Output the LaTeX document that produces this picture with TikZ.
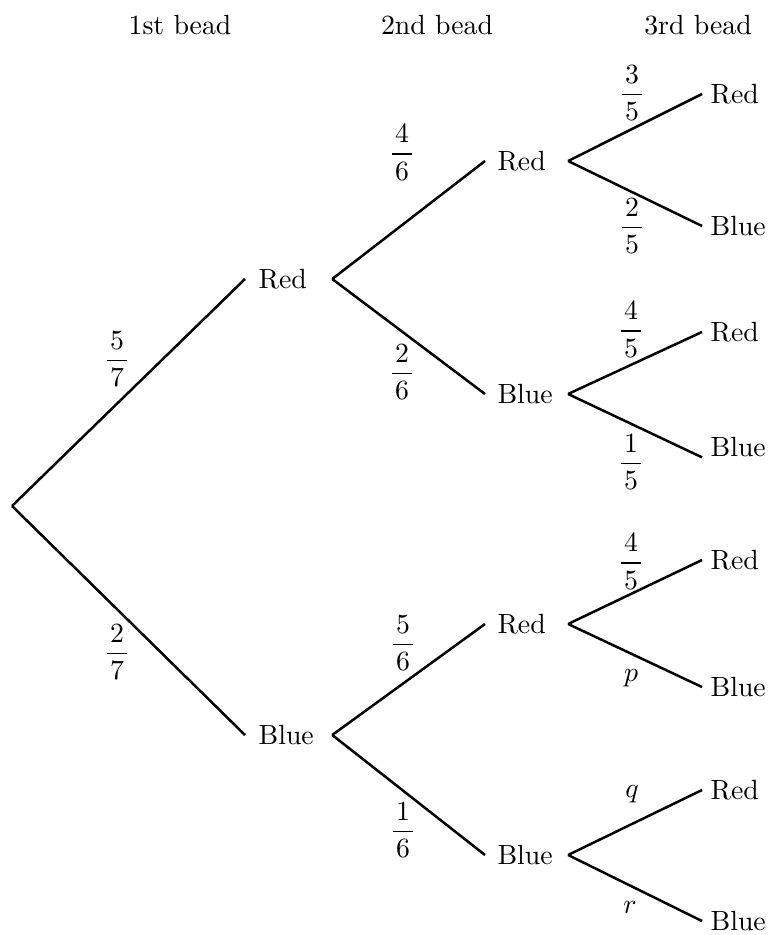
\documentclass[tikz,border=0pt]{standalone}
\usepackage{amsmath}
\usetikzlibrary{positioning}
\tikzstyle{branch}=[line width=0.9pt, black]
\tikzstyle{stage_one}=[anchor=west, inner xsep=4.7pt, inner ysep=0pt, text width=21.6pt, align=left]
\tikzstyle{stage_two}=[anchor=west, inner xsep=4.3pt, inner ysep=0pt, text width=20.9pt, align=left]
\tikzstyle{stage_leaf}=[anchor=west, inner xsep=2.9pt, inner ysep=0pt]
\tikzstyle{prob}=[inner sep=0pt]
\newcommand{\pfrac}[2]{$\dfrac{\kern1.2pt\text{#1}\kern1.2pt}{\text{#2}}$}

\begin{document}
\begin{tikzpicture}[x=0.36pt, y=-0.36pt]
          \useasboundingbox (0,0) rectangle (767,935);
          \node (head1) at (180,25){1st bead};
          \node (head2) at (437,25){2nd bead};
          \node (head3) at (698,25){3rd bead};
          \coordinate (start) at (12,506);
          \node[stage_one] (r) at (245,279){Red};
          \node[stage_one] (b) at (245,735){Blue};
          \draw[branch](start) -- (r.west);
          \draw[branch](start) -- (b.west);
          \node[stage_two] (rr) at (485,161){Red};
          \node[stage_two] (rb) at (485,394){Blue};
          \node[stage_two] (br) at (485,624){Red};
          \node[stage_two] (bb) at (485,855){Blue};
          \draw[branch](r.east) -- (rr.west);
          \draw[branch](r.east) -- (rb.west);
          \draw[branch](b.east) -- (br.west);
          \draw[branch](b.east) -- (bb.west);
          \node[stage_leaf] (rrr) at (702,94){Red};
          \node[stage_leaf] (rrb) at (702,226){Blue};
          \node[stage_leaf] (rbr) at (702,332){Red};
          \node[stage_leaf] (rbb) at (702,447){Blue};
          \node[stage_leaf] (brr) at (702,560){Red};
          \node[stage_leaf] (brb) at (702,687){Blue};
          \node[stage_leaf] (bbr) at (702,790){Red};
          \node[stage_leaf] (bbb) at (702,921){Blue};
          \draw[branch](rr.east) -- (rrr.west);
          \draw[branch](rr.east) -- (rrb.west);
          \draw[branch](rb.east) -- (rbr.west);
          \draw[branch](rb.east) -- (rbb.south west);
          \draw[branch](br.east) -- (brr.west);
          \draw[branch](br.east) -- (brb.west);
          \draw[branch](bb.east) -- (bbr.west);
          \draw[branch](bb.east) -- (bbb.west);
          % probabilities on the branches
          \node[prob] (p_r) at (117,359){\pfrac{5}{7}};
          \node[prob] (p_b) at (117,652){\pfrac{2}{7}};
          \node[prob] (p_rr) at (402,152){\pfrac{4}{6}};
          \node[prob] (p_rb) at (402,372){\pfrac{2}{6}};
          \node[prob] (p_br) at (403,643){\pfrac{5}{6}};
          \node[prob] (p_bb) at (403,830){\pfrac{1}{6}};
          \node[prob] (p_rrr) at (632,93){\pfrac{3}{5}};
          \node[prob] (p_rrb) at (632,226){\pfrac{2}{5}};
          \node[prob] (p_rbr) at (631,329){\pfrac{4}{5}};
          \node[prob] (p_rbb) at (631,462){\pfrac{1}{5}};
          \node[prob] (p_brr) at (631,561){\pfrac{4}{5}};
          \node[prob] (p_brb) at (631,678){$p$};
          \node[prob] (p_bbr) at (632,794){$q$};
          \node[prob] (p_bbb) at (630,908){$r$};
        \end{tikzpicture}
\end{document}
